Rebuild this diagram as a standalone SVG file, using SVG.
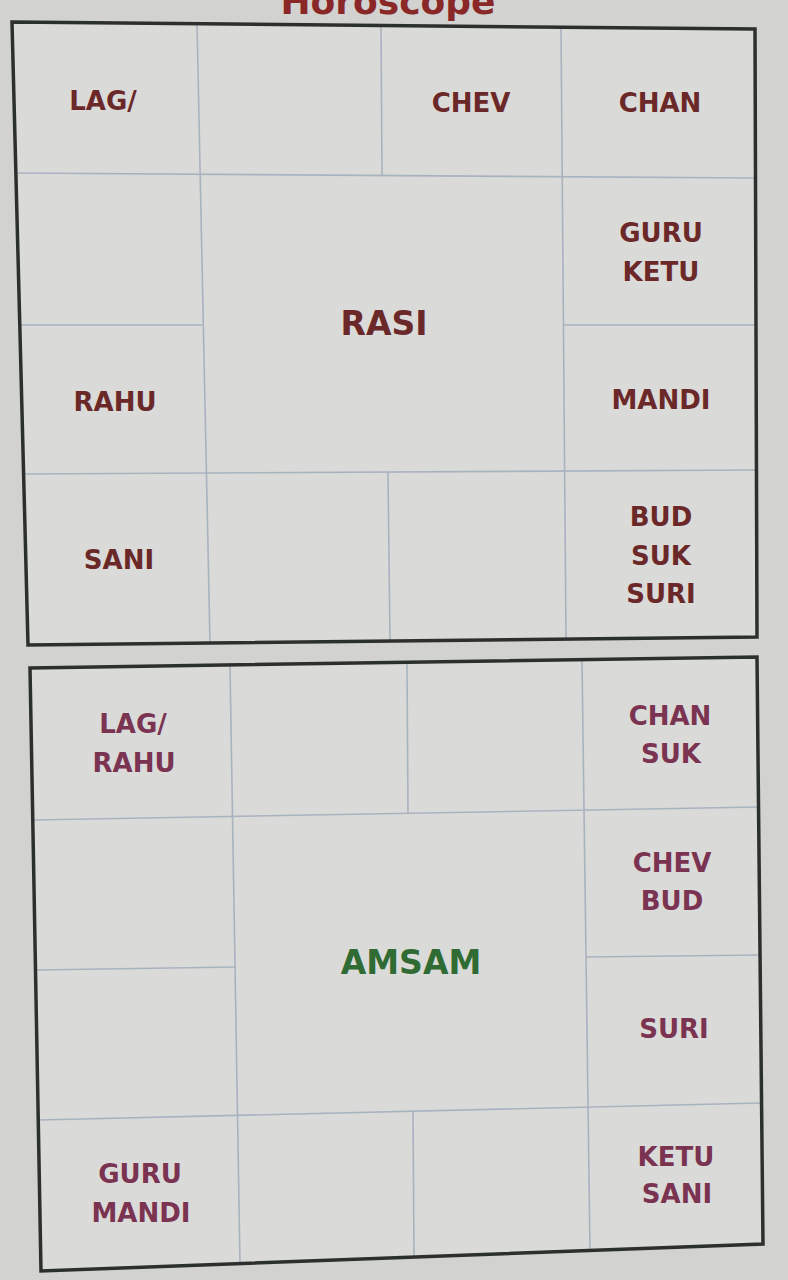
<svg xmlns="http://www.w3.org/2000/svg" width="788" height="1280" viewBox="0 0 788 1280">
<style>
.bg{fill:#d2d2d0}
.cell{fill:#dadad8}
.outer{fill:none;stroke:#2c302c;stroke-width:3.5;stroke-linejoin:miter}
.grid{fill:none;stroke:#a9b3c0;stroke-width:1.6}
.lbl{font-family:"DejaVu Sans",Verdana,sans-serif;font-weight:bold;font-size:26px;text-anchor:middle}
.r{fill:#6b2828}
.m{fill:#7a3350}
.title{font-family:"DejaVu Sans",Verdana,sans-serif;font-weight:bold;font-size:36px;fill:#8a2828;text-anchor:middle}
.big{font-size:33px}
.g{fill:#2f6b32}
</style>
<rect class="bg" x="0" y="0" width="788" height="1280"/>
<text class="title" x="388" y="14">Horoscope</text>

<g id="chart-rasi">
  <polygon class="cell" points="12,22 755,29 757,637 28,645"/>
  <g id="rasi-grid">
    <line class="grid" x1="197" y1="23" x2="210" y2="643"/>
    <line class="grid" x1="381" y1="25" x2="382" y2="176"/>
    <line class="grid" x1="388" y1="472" x2="390" y2="641"/>
    <line class="grid" x1="561" y1="27" x2="566" y2="638"/>
    <line class="grid" x1="15" y1="173" x2="756" y2="178"/>
    <line class="grid" x1="20" y1="325" x2="202" y2="325"/>
    <line class="grid" x1="563" y1="325" x2="756" y2="325"/>
    <line class="grid" x1="22" y1="474" x2="756" y2="470"/>
  </g>
  <polygon class="outer" points="12,22 755,29 757,637 28,645"/>
  <g id="rasi-h1"><text class="lbl r" x="103" y="110">LAG/</text></g>
  <g id="rasi-h3"><text class="lbl r" x="471" y="112">CHEV</text></g>
  <g id="rasi-h4"><text class="lbl r" x="660" y="112">CHAN</text></g>
  <g id="rasi-h5"><text class="lbl r" x="661" y="242">GURU</text><text class="lbl r" x="661" y="281">KETU</text></g>
  <g id="rasi-center"><text class="lbl r big" x="384" y="335">RASI</text></g>
  <g id="rasi-h12"><text class="lbl r" x="115" y="411">RAHU</text></g>
  <g id="rasi-h6"><text class="lbl r" x="661" y="409">MANDI</text></g>
  <g id="rasi-h10"><text class="lbl r" x="119" y="569">SANI</text></g>
  <g id="rasi-h7"><text class="lbl r" x="661" y="526">BUD</text><text class="lbl r" x="661" y="565">SUK</text><text class="lbl r" x="661" y="603">SURI</text></g>
</g>

<g id="chart-amsam">
  <polygon class="cell" points="30,668 757,657 763,1244 41,1271"/>
  <g id="amsam-grid">
    <line class="grid" x1="230" y1="666" x2="240" y2="1264"/>
    <line class="grid" x1="407" y1="664" x2="408" y2="814"/>
    <line class="grid" x1="413" y1="1111" x2="414" y2="1258"/>
    <line class="grid" x1="582" y1="661" x2="590" y2="1251"/>
    <line class="grid" x1="33" y1="820" x2="758" y2="807"/>
    <line class="grid" x1="36" y1="970" x2="236" y2="967"/>
    <line class="grid" x1="586" y1="957" x2="760" y2="955"/>
    <line class="grid" x1="39" y1="1120" x2="761" y2="1103"/>
  </g>
  <polygon class="outer" points="30,668 757,657 763,1244 41,1271"/>
  <g id="amsam-h1"><text class="lbl m" x="133" y="733">LAG/</text><text class="lbl m" x="134" y="772">RAHU</text></g>
  <g id="amsam-h4"><text class="lbl m" x="670" y="725">CHAN</text><text class="lbl m" x="671" y="763">SUK</text></g>
  <g id="amsam-h5"><text class="lbl m" x="672" y="872">CHEV</text><text class="lbl m" x="672" y="910">BUD</text></g>
  <g id="amsam-center"><text class="lbl g big" x="411" y="974">AMSAM</text></g>
  <g id="amsam-h6"><text class="lbl m" x="674" y="1038">SURI</text></g>
  <g id="amsam-h7"><text class="lbl m" x="676" y="1166">KETU</text><text class="lbl m" x="677" y="1203">SANI</text></g>
  <g id="amsam-h10"><text class="lbl m" x="140" y="1183">GURU</text><text class="lbl m" x="141" y="1222">MANDI</text></g>
</g>
</svg>
